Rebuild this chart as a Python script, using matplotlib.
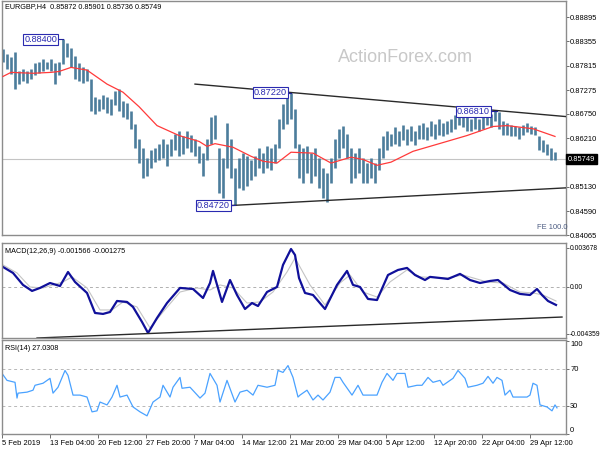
import matplotlib

matplotlib.use("Agg")
import matplotlib.pyplot as plt  # noqa: E402
import matplotlib.transforms as mtransforms  # noqa: E402

plt.rcParams["font.family"] = ["Liberation Sans", "DejaVu Sans"]

# --- EURGBP H4 bars (one slot per bar index) ---
bar_high = [
    0.8818, 0.8807, 0.8800, 0.8813, 0.8769, 0.8774, 0.8769, 0.8774, 0.8787, 0.8791,
    0.8796, 0.8791, 0.8796, 0.8787, 0.8791, 0.8840, 0.8831, 0.8822, 0.8804, 0.8787,
    0.8778, 0.8774, 0.8752, 0.8712, 0.8708, 0.8717, 0.8712, 0.8708, 0.8726, 0.8730,
    0.8704, 0.8699, 0.8682, 0.8653, 0.8620, 0.8599, 0.8577, 0.8594, 0.8599, 0.8609,
    0.8620, 0.8609, 0.8620, 0.8631, 0.8638, 0.8625, 0.8638, 0.8629, 0.8620, 0.8603,
    0.8588, 0.8620, 0.8669, 0.8673, 0.8599, 0.8577, 0.8655, 0.8620, 0.8555, 0.8577,
    0.8588, 0.8581, 0.8572, 0.8581, 0.8599, 0.8588, 0.8603, 0.8599, 0.8609, 0.8664,
    0.8697, 0.8712, 0.8722, 0.8686, 0.8609, 0.8599, 0.8603, 0.8588, 0.8599, 0.8577,
    0.8555, 0.8544, 0.8577, 0.8620, 0.8642, 0.8649, 0.8631, 0.8599, 0.8588, 0.8599,
    0.8577, 0.8566, 0.8577, 0.8566, 0.8599, 0.8625, 0.8636, 0.8631, 0.8647, 0.8638,
    0.8651, 0.8642, 0.8649, 0.8638, 0.8651, 0.8655, 0.8647, 0.8660, 0.8653, 0.8664,
    0.8655, 0.8660, 0.8664, 0.8673, 0.8686, 0.8682, 0.8669, 0.8664, 0.8669, 0.8664,
    0.8671, 0.8682, 0.8675, 0.8681, 0.8680, 0.8660, 0.8655, 0.8651, 0.8649, 0.8647,
    0.8651, 0.8655, 0.8649, 0.8647, 0.8625, 0.8616, 0.8609, 0.8599, 0.8590,
]
bar_low = [
    0.8791, 0.8774, 0.8763, 0.8730, 0.8741, 0.8747, 0.8743, 0.8752, 0.8761, 0.8765,
    0.8769, 0.8774, 0.8769, 0.8741, 0.8761, 0.8785, 0.8800, 0.8778, 0.8752, 0.8747,
    0.8743, 0.8747, 0.8682, 0.8675, 0.8682, 0.8686, 0.8677, 0.8673, 0.8695, 0.8682,
    0.8669, 0.8664, 0.8642, 0.8599, 0.8566, 0.8533, 0.8537, 0.8555, 0.8568, 0.8572,
    0.8577, 0.8559, 0.8581, 0.8594, 0.8581, 0.8585, 0.8599, 0.8590, 0.8581, 0.8566,
    0.8537, 0.8572, 0.8609, 0.8620, 0.8500, 0.8489, 0.8555, 0.8533, 0.8472, 0.8511,
    0.8507, 0.8515, 0.8528, 0.8537, 0.8555, 0.8544, 0.8555, 0.8550, 0.8566, 0.8599,
    0.8642, 0.8653, 0.8664, 0.8599, 0.8533, 0.8522, 0.8544, 0.8522, 0.8537, 0.8511,
    0.8489, 0.8480, 0.8522, 0.8555, 0.8577, 0.8599, 0.8577, 0.8522, 0.8533, 0.8544,
    0.8522, 0.8522, 0.8533, 0.8522, 0.8550, 0.8577, 0.8594, 0.8603, 0.8609, 0.8603,
    0.8616, 0.8607, 0.8614, 0.8607, 0.8620, 0.8620, 0.8616, 0.8625, 0.8620, 0.8629,
    0.8625, 0.8631, 0.8634, 0.8642, 0.8651, 0.8647, 0.8638, 0.8638, 0.8642, 0.8636,
    0.8642, 0.8651, 0.8647, 0.8660, 0.8642, 0.8629, 0.8629, 0.8625, 0.8625, 0.8620,
    0.8629, 0.8634, 0.8631, 0.8629, 0.8594, 0.8590, 0.8583, 0.8572, 0.8572,
]

# moving average (red)
ema_x = [0, 2, 7.5, 12, 14, 17, 21, 26, 30, 34, 38.5, 44, 49, 51, 53, 57.5, 62, 65,
         68.5, 72, 77.5, 82, 87, 90, 93.5, 97, 102.5, 111, 116, 122.5, 126, 132.5, 138]
ema_val = [0.8758, 0.8767, 0.8765, 0.8767, 0.8769, 0.8778, 0.8772, 0.8741, 0.8723,
           0.8691, 0.8649, 0.8627, 0.8614, 0.8603, 0.8609, 0.8601, 0.8581, 0.8570,
           0.8566, 0.8590, 0.8588, 0.8566, 0.8579, 0.8574, 0.8561, 0.8568, 0.8592,
           0.8614, 0.8627, 0.8647, 0.8649, 0.8642, 0.8625]

# triangle trend lines
upper_x = [48, 140.75]
upper_y = [0.8741, 0.8669]
lower_x = [57.25, 140.75]
lower_y = [0.8472, 0.8511]

# swing labels: (text, box right edge, bar index, price)
swing_labels = [("0.88400", 13.5, 15, 0.8840), ("0.87220", 71, 72, 0.8722),
                ("0.84720", 56.75, 58, 0.8472), ("0.86810", 121.75, 123.5, 0.8681)]

price_ticks = [0.88895, 0.88355, 0.87815, 0.87275, 0.86750, 0.86210, 0.85670,
               0.85130, 0.84590, 0.84065]
last_price = 0.85749

# MACD(12,26,9)
macd_x = [0, 2.5, 5, 7.25, 9.25, 11.75, 14.25, 16.25, 18, 21, 23, 25, 26.75, 28.5, 31,
          32.5, 34.75, 36.25, 38.5, 41, 44.25, 47.5, 50, 51.75, 52.5, 54.75, 56.75,
          58.5, 60.5, 62.25, 63.75, 66, 68.5, 70, 72, 73, 74, 75.5, 77.5, 80.5, 83.5,
          86, 87.5, 89.25, 91.25, 93.5, 96.25, 98.75, 101, 103, 105.5, 106.75, 109.25,
          111.25, 114.25, 116.75, 119.25, 121.75, 123.75, 126.75, 129.25, 131.75,
          133.5, 134.75, 136.25, 138.25]
macd_val = [0.00187, 0.00131, 0.00019, -0.00037, -0.00009, 0.00037, 0.00009, 0.00140,
            0.00047, -0.00056, -0.00243, -0.00252, -0.00234, -0.00131, -0.00140,
            -0.00187, -0.00327, -0.00430, -0.00290, -0.00150, -0.00009, -0.00019,
            -0.00103, 0.00037, 0.00150, -0.00140, 0.00065, -0.00075, -0.00206,
            -0.00150, -0.00178, -0.00047, 0.0, 0.00206, 0.00355, 0.00299, 0.00084,
            -0.00056, -0.00075, -0.00206, 0.00019, 0.00150, 0.00019, 0.0, -0.00112,
            -0.00122, 0.00112, 0.00159, 0.00178, 0.00112, 0.00065, 0.00094, 0.00084,
            0.00075, 0.00122, 0.00065, 0.00037, 0.00056, 0.00065, -0.00028, -0.00065,
            -0.00075, -0.00019, -0.00075, -0.00131, -0.00168]
signal_x = [0, 3.5, 6.75, 10, 15, 17.25, 21, 24.25, 27.25, 30, 33.5, 36.75, 40, 44.25,
            48.5, 51.75, 54.25, 57.5, 61, 64.25, 67.5, 71, 73, 76.75, 80.5, 84.25,
            86.75, 90, 93.5, 96.75, 101, 104.25, 111, 115, 121, 125, 129.25, 132.5,
            135, 138.25]
signal_val = [0.00206, 0.00131, 0.0, -0.00009, 0.00047, 0.00094, -0.00009, -0.00215,
              -0.00215, -0.00140, -0.00187, -0.00383, -0.00234, -0.00047, -0.00009,
              -0.00028, 0.00019, -0.00009, -0.00150, -0.00140, -0.00047, 0.00140,
              0.00271, 0.00019, -0.00168, 0.00037, 0.00112, -0.00047, -0.00094,
              0.00047, 0.00159, 0.00094, 0.00084, 0.00112, 0.00047, 0.00037,
              -0.00047, -0.00056, -0.00075, -0.00131]
macd_trend_x = [8.5, 139.75]
macd_trend_y = [-0.00477, -0.00281]
macd_ticks = [0.003678, 0.0, -0.004359]
macd_ticklabels = ["0.003678", "0.00", "-0.004359"]

# RSI(14)
rsi_x = [-0.25, 1, 3, 3.5, 3.75, 6, 7.5, 8, 10, 11.75, 12.5, 13.75, 15.5, 16.25, 17.5,
         19.25, 21, 22.25, 23.5, 24.25, 26, 27.25, 28.5, 29.25, 31, 32.5, 34.25, 36,
         37.5, 39.25, 40, 41.75, 42.5, 44.25, 44.75, 46.75, 49.25, 50.5, 51.75, 53.5,
         54.25, 56, 58, 59.25, 61, 62.5, 63.75, 66, 68, 68.75, 70, 71.25, 72.5, 73.75,
         74.25, 76, 77.5, 78.75, 80, 81.75, 83, 84.25, 85, 87.25, 88.75, 90, 93.5,
         94.75, 96, 97.5, 98.5, 100.5, 101.25, 103.5, 104.75, 106.25, 107.5, 109.25,
         110, 112.5, 113.75, 115.5, 116.25, 118.5, 120, 121.25, 122.5, 123.5, 124.75,
         125.5, 126.75, 127.5, 131, 131.75, 132.5, 133.5, 134.25, 136, 137.25, 138,
         138.5]
rsi_val = [64.9, 57.4, 55.3, 38.3, 43.6, 44.7, 46.8, 52.1, 54.3, 59.6, 43.6, 50, 68.1,
           62.8, 41.5, 41.5, 39.4, 23.4, 24.5, 34, 30.9, 39.4, 52.1, 39.4, 41.5, 28.7,
           23.4, 19.1, 34, 39.4, 52.1, 39.4, 50, 60.6, 48.9, 50, 38.3, 43.6, 64.9, 52.1,
           34, 57.4, 34, 44.7, 46.8, 41.5, 52.1, 50, 52.1, 68.1, 66, 73.4, 60.6, 39.4,
           41.5, 46.8, 36.2, 41.5, 36.2, 44.7, 60.6, 60.6, 55.3, 41.5, 52.1, 41.5, 41.5,
           55.3, 64.9, 57.4, 64.9, 64.9, 50, 52.1, 52.1, 60.6, 55.3, 57.4, 52.1, 59.6,
           68.1, 59.6, 50, 52.1, 54.3, 61.7, 54.3, 60.6, 57.4, 41.5, 46.8, 39.4, 39.4,
           41.5, 54.3, 52.1, 30.9, 28.7, 24.5, 30.9, 27.7]
rsi_ticks = [100, 70, 30, 0]

date_pos = [-0.25, 11.75, 23.75, 35.75, 47.75, 59.75, 71.75, 83.75, 95.75, 107.75,
            119.75, 131.75]
date_labels = ["5 Feb 2019", "13 Feb 04:00", "20 Feb 12:00", "27 Feb 20:00",
               "7 Mar 04:00", "14 Mar 12:00", "21 Mar 20:00", "29 Mar 04:00",
               "5 Apr 12:00", "12 Apr 20:00", "22 Apr 04:00", "29 Apr 12:00"]

W, H = 600, 450
FS = 5.4
FRAME = "#8c8c8c"


def panel(top, bottom):
    """Axes spanning pixel rows top..bottom, same x span for all panels."""
    left, right = 1.7, 566
    return fig.add_axes([left / W, 1 - bottom / H, (right - left) / W, (bottom - top) / H])


fig = plt.figure(figsize=(W / 100, H / 100), dpi=100)
ax = panel(1, 235)
ax_macd = panel(243, 338)
ax_rsi = panel(340, 434)

for a in (ax, ax_macd, ax_rsi):
    a.set_xlim(-0.33, 140.75)
    for s in a.spines.values():
        s.set_color(FRAME)
        s.set_linewidth(1.0)
    a.yaxis.tick_right()
    a.tick_params(axis="y", length=2.2, width=0.6, pad=0.8, labelsize=FS, color="#555555")
    a.tick_params(axis="x", length=3, width=0.6, pad=1.5, labelsize=FS, color="#555555")
    a.set_xticks(date_pos)
    if a is not ax_rsi:
        a.set_xticklabels([])
        a.tick_params(axis="x", length=0)

# --- price panel ---
idx = list(range(len(bar_high)))
ax.set_ylim(0.84130, 0.89252)
ax.axhline(last_price, color="#c4c4c4", lw=0.8, zorder=1)
ax.vlines(idx, bar_low, bar_high, color="#4c7d9c", lw=1.9, zorder=2)
ax.plot(ema_x, ema_val, color="#ff3a3a", lw=0.9, zorder=3)
ax.plot(upper_x, upper_y, color="#2a2a2a", lw=1.0, zorder=3)
ax.plot(lower_x, lower_y, color="#2a2a2a", lw=1.0, zorder=3)
for txt, xr, xb, p in swing_labels:
    ax.plot([xr, xb], [p, p], color="#22229a", lw=0.8, zorder=4)
    ax.text(xr, p, txt, ha="right", va="center", fontsize=6.6, color="#2a2ab0", zorder=5,
            bbox=dict(boxstyle="square,pad=0.1", fc="white", ec="#2a2ab0", lw=0.8))
ax.set_yticks(price_ticks)
ax.set_yticklabels([f"{v:.5f}" for v in price_ticks])
blend = mtransforms.blended_transform_factory(ax.transAxes, ax.transData)
ax.text(1.003, last_price, f"{last_price:.5f}", transform=blend, ha="left", va="center",
        fontsize=FS, color="white", zorder=10, clip_on=False,
        bbox=dict(boxstyle="square,pad=0.25", fc="black", ec="black"))
ax.text(0.006, 0.992, "EURGBP,H4  0.85872 0.85901 0.85736 0.85749", transform=ax.transAxes,
        ha="left", va="top", fontsize=5.2, color="black")
ax.text(133.5, 0.8423, "FE 100.0", ha="left", va="center", fontsize=FS, color="#4a5a80")
fig.text(405 / W, 1 - 58 / H, "ActionForex.com", ha="center", va="center",
         fontsize=13, color="#c8c8c8")

# --- MACD panel ---
ax_macd.set_ylim(-0.00477, 0.00411)
ax_macd.axhline(0, color="#b0b0b0", lw=0.7, ls=(0, (3, 3)))
ax_macd.plot(signal_x, signal_val, color="#c4c4c4", lw=0.8)
ax_macd.plot(macd_x, macd_val, color="#10109a", lw=1.6)
ax_macd.plot(macd_trend_x, macd_trend_y, color="#2a2a2a", lw=1.0)
ax_macd.set_yticks(macd_ticks)
ax_macd.set_yticklabels(macd_ticklabels)
ax_macd.tick_params(axis="y", labelsize=4.9, pad=0.5)
ax_macd.text(0.006, 0.95, "MACD(12,26,9) -0.001566 -0.001275", transform=ax_macd.transAxes,
             ha="left", va="top", fontsize=5.2)

# --- RSI panel ---
ax_rsi.set_ylim(-0.5, 101)
for lvl in (70, 30):
    ax_rsi.axhline(lvl, color="#b8b8b8", lw=0.7, ls=(0, (3, 3)))
ax_rsi.plot(rsi_x, rsi_val, color="#4aa2ff", lw=0.9)
ax_rsi.set_yticks(rsi_ticks)
ax_rsi.set_yticklabels([str(v) for v in rsi_ticks])
labs = ax_rsi.get_yticklabels()
labs[0].set_va("top")
labs[-1].set_va("bottom")
ax_rsi.set_xticklabels(date_labels, ha="left")
ax_rsi.text(0.006, 0.95, "RSI(14) 27.0308", transform=ax_rsi.transAxes,
            ha="left", va="top", fontsize=5.2)

fig.savefig("out.png", dpi=100, facecolor="white")
